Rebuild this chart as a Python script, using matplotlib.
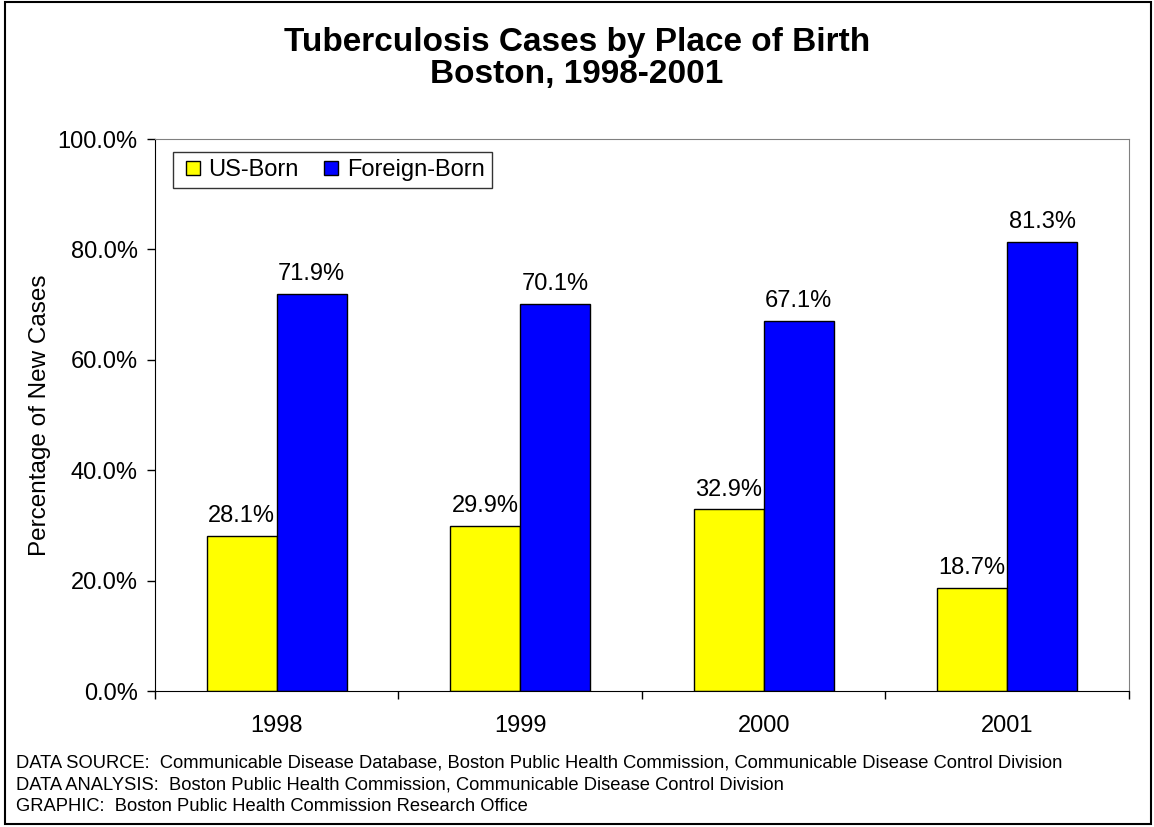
import numpy as np
import matplotlib.pyplot as plt
from matplotlib.patches import Rectangle
from matplotlib.lines import Line2D
from matplotlib.ticker import FuncFormatter, FixedLocator

plt.rcParams['font.family'] = ['Liberation Sans', 'DejaVu Sans']

years = ['1998', '1999', '2000', '2001']
us_born = [28.1, 29.9, 32.9, 18.7]
foreign_born = [71.9, 70.1, 67.1, 81.3]
series_names = ['US-Born', 'Foreign-Born']
series_colors = ['#ffff00', '#0000ff']

fig = plt.figure(figsize=(11.54, 8.27), dpi=100)
ax = fig.add_axes([0.1343, 0.1644, 0.8440, 0.6675])

x = np.arange(len(years))
w = 0.2875
b1 = ax.bar(x - w / 2, us_born, w, color=series_colors[0], edgecolor='black', linewidth=1)
b2 = ax.bar(x + w / 2, foreign_born, w, color=series_colors[1], edgecolor='black', linewidth=1)

for bars, vals in ((b1, us_born), (b2, foreign_born)):
    for r, v in zip(bars, vals):
        ax.annotate(f'{v:.1f}%', (r.get_x() + r.get_width() / 2, v), xytext=(0, 10),
                    textcoords='offset points', ha='center', va='baseline', fontsize=17)

ax.set_xlim(-0.5, len(years) - 0.5)
ax.set_ylim(0, 100)
ax.yaxis.set_major_locator(FixedLocator([0, 20, 40, 60, 80, 100]))
ax.yaxis.set_major_formatter(FuncFormatter(lambda v, p: f'{v:.1f}%'))
ax.set_xticks(x)
ax.set_xticklabels(years)
ax.xaxis.set_minor_locator(FixedLocator(np.arange(len(years) + 1) - 0.5))
ax.tick_params(axis='x', which='major', length=0, pad=17, labelsize=17)
ax.tick_params(axis='x', which='minor', length=6, width=1)
ax.tick_params(axis='y', length=6, width=1, labelsize=17, pad=6.5)
for s in ('top', 'right'):
    ax.spines[s].set_color('#808080')
for s in ('left', 'bottom'):
    ax.spines[s].set_color('black')
ax.set_ylabel('Percentage of New Cases', fontsize=17.5, labelpad=5)

# square swatches as legend handles
handles = [Line2D([], [], marker='s', linestyle='none', markersize=10.5, markerfacecolor=c,
                  markeredgecolor='black', markeredgewidth=1) for c in series_colors]
leg = ax.legend(handles, series_names, loc='upper left', bbox_to_anchor=(0.0185, 0.976), ncol=2,
                fontsize=17, frameon=True, fancybox=False, edgecolor='black', handlelength=1.1,
                handletextpad=0.1, columnspacing=0.83, borderpad=0.3, borderaxespad=0)
leg.get_frame().set_linewidth(1)

fig.text(0.5, 0.929, 'Tuberculosis Cases by Place of Birth\nBoston, 1998-2001', ha='center', va='center',
         fontsize=24, fontweight='bold', linespacing=1.05)

notes = ['DATA SOURCE:  Communicable Disease Database, Boston Public Health Commission, Communicable Disease Control Division',
         'DATA ANALYSIS:  Boston Public Health Commission, Communicable Disease Control Division',
         'GRAPHIC:  Boston Public Health Commission Research Office']
for i, n in enumerate(notes):
    fig.text(0.0139, 0.0774 - i * 0.0266, n, ha='left', va='center', fontsize=13.2)

fig.patches.append(Rectangle((0.004, 0.004), 0.993, 0.993, transform=fig.transFigure,
                             fill=False, edgecolor='black', linewidth=1.5))

fig.savefig('out.png', dpi=100)
